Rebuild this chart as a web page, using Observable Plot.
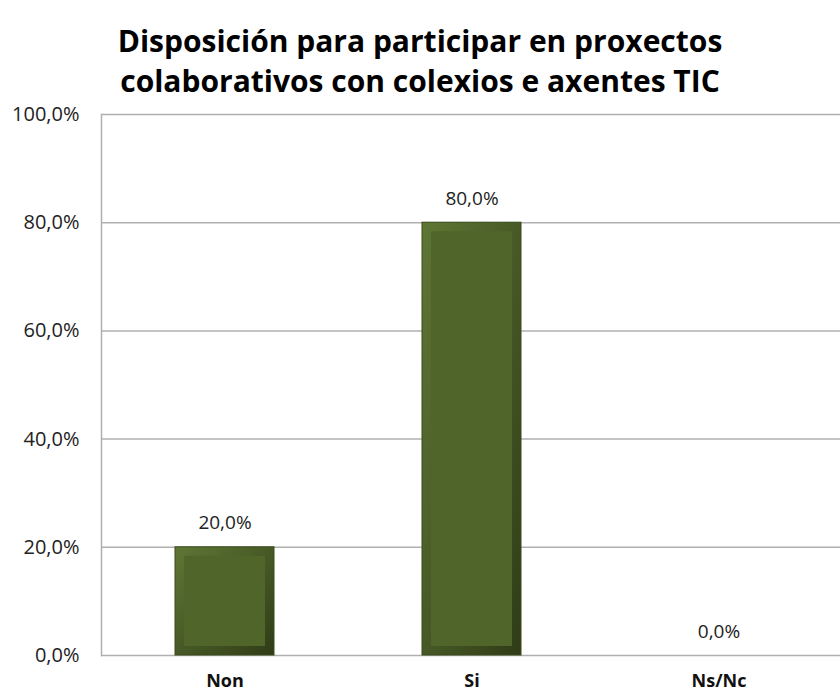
<!DOCTYPE html>
<html><head><meta charset="utf-8">
<script src="https://cdn.jsdelivr.net/npm/d3@7"></script>
<script src="https://cdn.jsdelivr.net/npm/@observablehq/plot@0.6"></script>
<style>
html,body{margin:0;padding:0;background:#fff;}
#wrap{position:relative;width:840px;height:695px;overflow:hidden;background:#fff;}
#chart{position:absolute;left:0;top:0;}
#title{position:absolute;left:0;top:21px;width:840px;text-align:center;font-family:"Open Sans",sans-serif;font-weight:700;font-size:30px;line-height:40px;color:#000;z-index:2;}
</style></head>
<body><div id="wrap"><div id="chart"></div><div id="title">Disposición para participar en proxectos<br>colaborativos con colexios e axentes TIC</div></div>
<script>
const categories = ["Non", "Si", "Ns/Nc"];
const values = [0.20, 0.80, 0.00];
const yTicks = [0, 0.2, 0.4, 0.6, 0.8, 1.0];

const data = categories.map((c, i) => ({cat: c, v: values[i]}));
const es = d3.formatLocale({decimal: ",", thousands: ".", grouping: [3], currency: ["", "€"]});
const pct = es.format(".1%");

const plot = Plot.plot({
  width: 840, height: 695,
  marginTop: 114, marginBottom: 40, marginLeft: 101, marginRight: -2,
  style: {fontFamily: "'Open Sans', sans-serif", background: "transparent", overflow: "visible"},
  x: {domain: categories, paddingInner: 0.6, paddingOuter: 0.3, label: null, tickSize: 0},
  y: {domain: [0, 1], ticks: yTicks, label: null, tickSize: 0},
  marks: [
    Plot.gridY(yTicks, {stroke: "#b0b0b0", strokeOpacity: 1, strokeWidth: 1.5}),
    Plot.frame({anchor: "left", stroke: "#b0b0b0", strokeWidth: 1.5}),
    Plot.barY(data, {x: "cat", y: "v", fill: "url(#barGrad)", stroke: "#3a4a1c", strokeWidth: 1}),
    Plot.barY(data.filter(d => d.v > 0), {x: "cat", y1: 0, y2: "v", fill: "#506529", insetLeft: 9, insetRight: 9, insetTop: 9, insetBottom: 9}),
    Plot.text(data, {x: "cat", y: "v", text: d => pct(d.v), dy: -24, fontSize: 19, fill: "#222"}),
    Plot.axisY(yTicks, {tickFormat: pct, fontSize: 20, tickSize: 0, tickPadding: 22, fill: "#222"}),
    Plot.axisX({fontSize: 18, fontWeight: 700, tickSize: 0, tickPadding: 19, fill: "#111"})
  ]
});

const defs = d3.create("svg:defs");
const g = defs.append("linearGradient").attr("id", "barGrad").attr("x1", 0).attr("y1", 0).attr("x2", 1).attr("y2", 1);
g.append("stop").attr("offset", "0%").attr("stop-color", "#5f7735");
g.append("stop").attr("offset", "100%").attr("stop-color", "#2f3c17");
plot.insertBefore(defs.node(), plot.firstChild);
document.getElementById("chart").appendChild(plot);
</script></body></html>
